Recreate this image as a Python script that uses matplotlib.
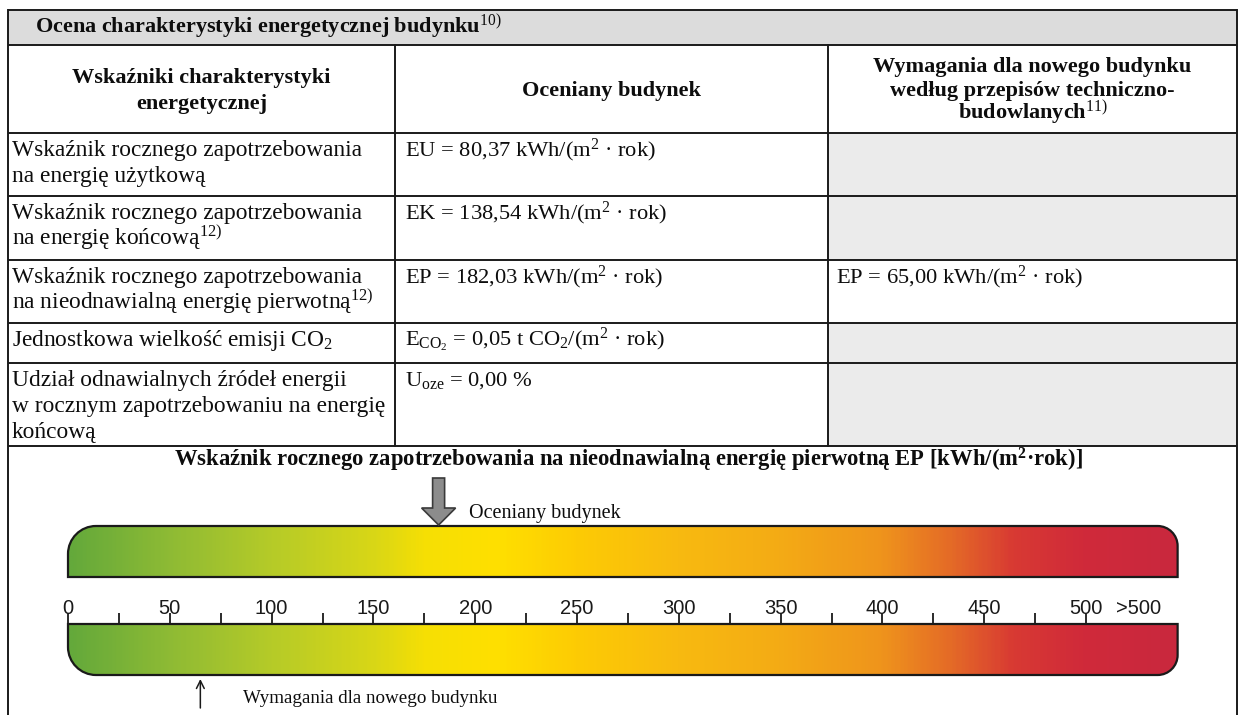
import matplotlib
matplotlib.use('Agg')
import matplotlib.pyplot as plt
import numpy as np
from matplotlib.path import Path
from matplotlib.patches import PathPatch, Rectangle, Polygon
from matplotlib.colors import LinearSegmentedColormap

plt.rcParams['font.family'] = ['Liberation Serif', 'DejaVu Serif']
plt.rcParams['mathtext.fontset'] = 'custom'
plt.rcParams['mathtext.rm'] = 'Liberation Serif'
plt.rcParams['mathtext.it'] = 'Liberation Serif:italic'
plt.rcParams['mathtext.bf'] = 'Liberation Serif:bold'

# ---------------- data ----------------
table_title = "Ocena charakterystyki energetycznej budynku$^{\\mathrm{10)}}$"
header_col1 = ["Wskaźniki charakterystyki", "energetycznej"]
header_col2 = ["Oceniany budynek"]
header_col3 = ["Wymagania dla nowego budynku", "według przepisów techniczno-",
               "budowlanych$^{\\mathrm{11)}}$"]
row_labels = [
    ["Wskaźnik rocznego zapotrzebowania", "na energię użytkową"],
    ["Wskaźnik rocznego zapotrzebowania", "na energię końcową$^{\\mathrm{12)}}$"],
    ["Wskaźnik rocznego zapotrzebowania",
     "na nieodnawialną energię pierwotną$^{\\mathrm{12)}}$"],
    ["Jednostkowa wielkość emisji CO$_{\\mathrm{2}}$"],
    ["Udział odnawialnych źródeł energii", "w rocznym zapotrzebowaniu na energię",
     "końcową"],
]
eu_value = 80.37
ek_value = 138.54
ep_value = 182.03
eco2_value = 0.05
uoze_value = 0.00
ep_required = 65.00

scale_title = ("Wskaźnik rocznego zapotrzebowania na nieodnawialną energię pierwotną "
               "EP [kWh/(m$^{\\mathbf{2}}$·rok)]")
scale_ticks = [0, 50, 100, 150, 200, 250, 300, 350, 400, 450, 500]
scale_tick_labels = ['0', '50', '100', '150', '200', '250', '300', '350', '400', '450', '500']
minor_ticks = [25, 75, 125, 175, 225, 275, 325, 375, 425, 475]
overflow_label = '>500'
gradient_values = [0, 50, 100, 150, 175, 210, 250, 300, 350, 400, 435, 465, 500, 545]
gradient_colors = ['#64a93b', '#8fbb34', '#b6cb28', '#d9d716', '#f6df04', '#ffe000',
                   '#fdcb04', '#f8ba10', '#f4ab15', '#ef941c', '#e46a27', '#d83a33',
                   '#d02a3a', '#c9283e']
label_building = "Oceniany budynek"
label_required = "Wymagania dla nowego budynku"


def fmt(v):
    return f"{v:.2f}".replace('.', ',')


M2 = "(m$^{\\mathrm{2}}$ · rok)"
building_values = [
    f"EU = {fmt(eu_value)} kWh/" + M2,
    f"EK = {fmt(ek_value)} kWh/" + M2,
    f"EP = {fmt(ep_value)} kWh/" + M2,
    f"E$_{{\\mathrm{{CO}}_{{\\mathrm{{2}}}}}}$ = {fmt(eco2_value)} t CO$_{{\\mathrm{{2}}}}$/" + M2,
    f"U$_{{\\mathrm{{oze}}}}$ = {fmt(uoze_value)} %",
]
required_values = ["", "", f"EP = {fmt(ep_required)} kWh/" + M2, "", ""]

# ---------------- layout ----------------
W, H = 1240, 715
fig = plt.figure(figsize=(W / 100, H / 100), dpi=100)
ax = fig.add_axes([0, 0, 1, 1])
ax.set_xlim(0, W)
ax.set_ylim(H, 0)
ax.axis('off')

L, C1, C2, R = 8, 395, 828, 1237
row_y = [10, 45, 133, 196, 260, 323, 363, 446]
LC = '#1a1a1a'
TC = '#0d0d0d'
FS_H = 16
FS_L = 16.8
FS_V = 16.2
line_gap = 26

# backgrounds
ax.add_patch(Rectangle((L, row_y[0]), R - L, row_y[1] - row_y[0], facecolor='#dcdcdc',
                       edgecolor='none'))
for i in range(5):
    if required_values[i] == "":
        ax.add_patch(Rectangle((C2, row_y[i + 2]), R - C2, row_y[i + 3] - row_y[i + 2],
                               facecolor='#ebebeb', edgecolor='none'))

# lines
for y in row_y:
    ax.plot([L, R], [y, y], color=LC, lw=1.4, solid_capstyle='butt')
ax.plot([L, L], [row_y[0], H], color=LC, lw=1.4)
ax.plot([R, R], [row_y[0], H], color=LC, lw=1.4)
for x in (C1, C2):
    ax.plot([x, x], [row_y[1], row_y[-1]], color=LC, lw=1.4)

# title
ax.text(35, row_y[0] + 24, table_title, fontsize=FS_H, fontweight='bold', va='baseline',
        color=TC)

# headers
hc = (row_y[1] + row_y[2]) / 2 + 7


def block(x, yc, lines, ha, bold=False, gap=line_gap, fs=FS_H):
    n = len(lines)
    for k, t in enumerate(lines):
        y = yc + (k - (n - 1) / 2) * gap
        ax.text(x, y, t, fontsize=fs, fontweight='bold' if bold else 'normal',
                ha=ha, va='baseline', color=TC)


block((L + C1) / 2, hc, header_col1, 'center', bold=True, gap=27)
block((C1 + C2) / 2, hc, header_col2, 'center', bold=True)
block((C2 + R) / 2, hc, header_col3, 'center', bold=True, gap=24)

# body rows
for i in range(5):
    top = row_y[i + 2]
    for k, t in enumerate(row_labels[i]):
        ax.text(12, top + 23 + k * line_gap, t, fontsize=FS_L, va='baseline', color=TC)
    ax.text(C1 + 10, top + 23, building_values[i], fontsize=FS_V, va='baseline', color=TC)
    if required_values[i]:
        ax.text(C2 + 8, top + 23, required_values[i], fontsize=FS_V, va='baseline',
                color=TC)

# ---------------- scale ----------------
PXU = 2.036   # pixels per EP unit
X0 = 68       # pixel position of EP = 0
ax2 = fig.add_axes([0, 0, 1, 1])
ax2.patch.set_alpha(0)
ax2.axis('off')

bar_end = 545
top_bar = (526, 577)
bot_bar = (624, 675)


def rounded_bar(x0, x1, yt, yb, r_tl=0, r_tr=0, r_br=0, r_bl=0):
    k = 0.5523
    v, c = [], []

    def rx(r):
        return r / PXU
    v.append((x0 + rx(r_tl), yt)); c.append(Path.MOVETO)
    v.append((x1 - rx(r_tr), yt)); c.append(Path.LINETO)
    if r_tr:
        v += [(x1 - rx(r_tr) + k * rx(r_tr), yt), (x1, yt + r_tr - k * r_tr), (x1, yt + r_tr)]
        c += [Path.CURVE4] * 3
    v.append((x1, yb - r_br)); c.append(Path.LINETO)
    if r_br:
        v += [(x1, yb - r_br + k * r_br), (x1 - rx(r_br) + k * rx(r_br), yb), (x1 - rx(r_br), yb)]
        c += [Path.CURVE4] * 3
    v.append((x0 + rx(r_bl), yb)); c.append(Path.LINETO)
    if r_bl:
        v += [(x0 + rx(r_bl) - k * rx(r_bl), yb), (x0, yb - r_bl + k * r_bl), (x0, yb - r_bl)]
        c += [Path.CURVE4] * 3
    v.append((x0, yt + r_tl)); c.append(Path.LINETO)
    if r_tl:
        v += [(x0, yt + r_tl - k * r_tl), (x0 + rx(r_tl) - k * rx(r_tl), yt), (x0 + rx(r_tl), yt)]
        c += [Path.CURVE4] * 3
    v.append((x0 + rx(r_tl), yt)); c.append(Path.CLOSEPOLY)
    return Path(v, c)


cmap = LinearSegmentedColormap.from_list(
    'ep', [(gv / gradient_values[-1], col) for gv, col in zip(gradient_values, gradient_colors)])
grad = np.linspace(0, 1, 600).reshape(1, -1)

for (yt, yb), radii in ((top_bar, dict(r_tl=28, r_tr=20)),
                        (bot_bar, dict(r_bl=28, r_br=20))):
    p = rounded_bar(0, bar_end, yt, yb, **radii)
    img = ax2.imshow(grad, extent=(0, bar_end, yb, yt), aspect='auto', cmap=cmap,
                     interpolation='bilinear', zorder=1)
    patch = PathPatch(p, facecolor='none', edgecolor='#1a1a1a', lw=1.6, zorder=3)
    ax2.add_patch(patch)
    img.set_clip_path(patch)

# ticks
ax2.vlines(scale_ticks, bot_bar[0] - 11, bot_bar[0], color='#1a1a1a', lw=1.3, zorder=4)
ax2.vlines(minor_ticks, bot_bar[0] - 11, bot_bar[0], color='#1a1a1a', lw=1.3, zorder=4)
for t, lab in zip(scale_ticks, scale_tick_labels):
    ax2.text(t, 614, lab, ha='center', va='baseline', fontsize=14.5,
             fontfamily='Liberation Sans', color='#1a1a1a')
ax2.text(526, 614, overflow_label, ha='center', va='baseline', fontsize=14.5,
         fontfamily='Liberation Sans', color='#1a1a1a')

# title of scale (centered at pixel 628)
ax2.text((628 - X0) / PXU, 466, scale_title,
         ha='center', va='baseline', fontsize=16.3, fontweight='bold', color=TC)

# building arrow (gray)
hs, hh = 6 / PXU, 17 / PXU
ax2.add_patch(Polygon([(ep_value - hs, 478), (ep_value + hs, 478), (ep_value + hs, 508),
                       (ep_value + hh, 508), (ep_value, 525), (ep_value - hh, 508),
                       (ep_value - hs, 508)], closed=True, facecolor='#8c8c8c',
                      edgecolor='#3a3a3a', lw=1.2, zorder=5))
ax2.text(ep_value + 15, 518, label_building, fontsize=14.5, va='baseline', color=TC)

# requirement arrow (thin)
ax2.annotate('', xy=(ep_required, 679), xytext=(ep_required, 708),
             arrowprops=dict(arrowstyle='->', lw=1.1, color='#1a1a1a', mutation_scale=14,
                             shrinkA=0, shrinkB=0))
ax2.text(ep_required + 21, 703, label_required, fontsize=13.7, va='baseline', color=TC)

ax2.set_xlim(-X0 / PXU, (W - X0) / PXU)
ax2.set_ylim(H, 0)

fig.savefig('out.png', dpi=100, facecolor='white')
